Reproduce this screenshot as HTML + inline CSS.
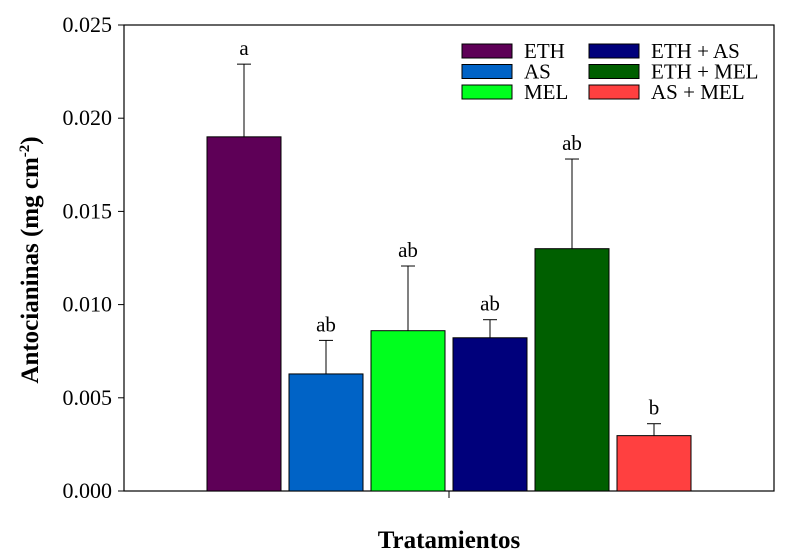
<!DOCTYPE html>
<html><head><meta charset="utf-8"><style>
body{margin:0;background:#fff}
svg{display:block;font-family:"Liberation Serif",serif}
</style></head><body>
<svg id="c" width="790" height="555"></svg>
<script>
const categories=["ETH","AS","MEL","ETH + AS","ETH + MEL","AS + MEL"];
const values=[0.0190,0.00628,0.00860,0.00822,0.01300,0.00297];
const errors=[0.0039,0.00180,0.00347,0.00097,0.00481,0.00064];
const letters=["a","ab","ab","ab","ab","b"];
const colors=["#5e0057","#0063c6","#00ff1e","#00007b","#005f00","#ff4040"];
const yTicks=["0.000","0.005","0.010","0.015","0.020","0.025"];
const NS="http://www.w3.org/2000/svg",svg=document.getElementById('c');
const L=124,R=774,T=25,B=491;
const y=v=>B-v/0.025*(B-T);
const xb=i=>207+i*82;
function mk(t,a,txt){const e=document.createElementNS(NS,t);for(const k in a)e.setAttribute(k,a[k]);if(txt!=null)e.textContent=txt;svg.appendChild(e);return e;}
let e;
e=mk('rect',{x:L,y:T,width:R-L,height:B-T,fill:'none',stroke:'#000','stroke-width':1.2});

yTicks.forEach(t=>{const v=parseFloat(t);
 e=mk('line',{x1:L-6,x2:L,y1:y(v),y2:y(v),stroke:'#000'});
 
 e=mk('text',{x:L-12,y:y(v)+7,'text-anchor':'end','font-size':22},t);
 
});
e=mk('line',{x1:449,x2:449,y1:B,y2:B+7,stroke:'#000'});

values.forEach((v,i)=>{const x=xb(i),w=74;
 e=mk('line',{x1:x+w/2,x2:x+w/2,y1:y(v),y2:y(v+errors[i]),stroke:'#000'});
 
 e=mk('line',{x1:x+w/2-7,x2:x+w/2+7,y1:y(v+errors[i]),y2:y(v+errors[i]),stroke:'#000'});
 
 e=mk('rect',{x:x,y:y(v),width:w,height:B-y(v),fill:colors[i],stroke:'#000'});
 
 e=mk('text',{x:x+w/2,y:y(v+errors[i])-9,'text-anchor':'middle','font-size':21},letters[i]);
 
});
categories.forEach((c,i)=>{const col=i<3?0:1,row=i%3;const x=462+col*127,yy=44+row*20.5;
 e=mk('rect',{x:x,y:yy,width:50,height:14,fill:colors[i],stroke:'#000'});
 
 e=mk('text',{x:x+62,y:yy+14,'font-size':21},c);
 
});
e=mk('text',{x:449,y:548,'text-anchor':'middle','font-size':25,'font-weight':'bold'},'Tratamientos');

e=mk('text',{transform:'translate(38,260) rotate(-90)','text-anchor':'middle','font-size':25,'font-weight':'bold'});

e.innerHTML='Antocianinas (mg cm<tspan dy="-9" font-size="15">-2</tspan><tspan dy="9">)</tspan>';
</script>
</body></html>
